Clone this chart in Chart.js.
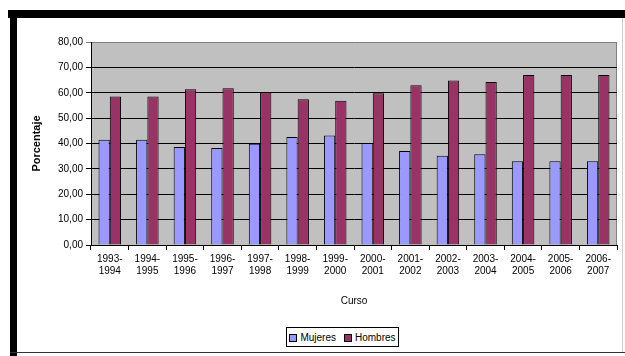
<!DOCTYPE html>
<html>
<head>
<meta charset="utf-8">
<script src="https://cdn.jsdelivr.net/npm/chart.js@4"></script>
<style>
  body { margin: 0; background: #fff; }
  #wrap { position: relative; width: 625px; height: 356px; overflow: hidden; font-family: "Liberation Sans", Arial, sans-serif; }
  #chart { position: absolute; left: 0; top: 0; }
  .band { position: absolute; background: #000; }
  #legend { position: absolute; left: 286px; top: 327px; width: 111px; height: 18px; border: 1px solid #000; background: #fff;
            display: flex; align-items: center; justify-content: center; gap: 8px; font-size: 10px; color: #000; }
  #legend span.sw { display: inline-block; width: 6px; height: 6px; border: 1px solid #000; margin-right: 3px; vertical-align: middle; }
</style>
</head>
<body>
<div id="wrap">
  <canvas id="chart" width="625" height="356"></canvas>
  <div class="band" style="left:8px; top:10px; width:617px; height:8px;"></div>
  <div class="band" style="left:10px; top:10px; width:7px; height:346px;"></div>
  <div class="band" style="left:10px; top:352px; width:615px; height:1px; background:#333;"></div>
  <div class="band" style="left:622px; top:18px; width:1px; height:334px; background:#ccc;"></div>
  <div id="legend"></div>
</div>
<script>
const categories = [
  ["1993-", "1994"], ["1994-", "1995"], ["1995-", "1996"], ["1996-", "1997"],
  ["1997-", "1998"], ["1998-", "1999"], ["1999-", "2000"], ["2000-", "2001"],
  ["2001-", "2002"], ["2002-", "2003"], ["2003-", "2004"], ["2004-", "2005"],
  ["2005-", "2006"], ["2006-", "2007"]
];
const mujeres = [41.5, 41.5, 38.6, 38.2, 39.9, 42.6, 43.2, 40.2, 37.0, 35.2, 35.8, 33.0, 33.0, 33.0];
const hombres = [58.5, 58.5, 61.4, 61.8, 60.1, 57.4, 56.8, 59.8, 63.0, 64.8, 64.2, 67.0, 67.0, 67.0];
const seriesNames = ["Mujeres", "Hombres"];
const seriesColors = ["#9999FF", "#993366"];

/* plot area background + right border */
const plotBg = {
  id: "plotBg",
  beforeDraw(chart) {
    const { ctx, chartArea: a } = chart;
    ctx.save();
    ctx.fillStyle = "#C0C0C0";
    ctx.fillRect(a.left, a.top, a.right - a.left, a.bottom - a.top);
    ctx.strokeStyle = "#808080";
    ctx.lineWidth = 1;
    ctx.beginPath();
    ctx.moveTo(a.right - 0.5, a.top);
    ctx.lineTo(a.right - 0.5, a.bottom);
    ctx.stroke();
    ctx.restore();
  }
};

const chart = new Chart(document.getElementById("chart"), {
  type: "bar",
  data: {
    labels: categories,
    datasets: [
      {
        label: seriesNames[0],
        data: mujeres,
        backgroundColor: seriesColors[0],
        borderColor: "#000",
        borderWidth: 1,
        categoryPercentage: 0.6,
        barPercentage: 1
      },
      {
        label: seriesNames[1],
        data: hombres,
        backgroundColor: seriesColors[1],
        borderColor: "#000",
        borderWidth: 1,
        categoryPercentage: 0.6,
        barPercentage: 1
      }
    ]
  },
  options: {
    responsive: false,
    animation: false,
    layout: { padding: { left: 17, right: 8, top: 42, bottom: 45 } },
    plugins: {
      legend: { display: false },
      tooltip: { enabled: false }
    },
    scales: {
      x: {
        grid: { offset: true, drawOnChartArea: false, color: "#000", tickLength: 5 },
        border: { color: "#000" },
        ticks: {
          color: "#000",
          maxRotation: 0,
          autoSkip: false,
          padding: 3,
          font: { family: "Liberation Sans", size: 10 }
        },
        title: {
          display: true,
          text: "Curso",
          color: "#000",
          font: { family: "Liberation Sans", size: 10 }
        },
        afterFit: s => { s.height = 66; }
      },
      y: {
        min: 0,
        max: 80,
        grid: {
          color: c => (c.tick && c.tick.value === 80 ? "#808080" : "#000"),
          tickLength: 5
        },
        border: { color: "#000" },
        ticks: {
          stepSize: 10,
          color: "#000",
          padding: 3,
          font: { family: "Liberation Sans", size: 10 },
          callback: v => v.toFixed(2).replace(".", ",")
        },
        title: {
          display: true,
          text: "Porcentaje",
          color: "#000",
          padding: { top: 13, bottom: 0 },
          font: { family: "Liberation Sans", size: 11, weight: "bold" }
        },
        afterFit: s => { s.width = 74; }
      }
    }
  },
  plugins: [plotBg]
});

/* legend with a frame, as in the original */
const legend = document.getElementById("legend");
chart.data.datasets.forEach(ds => {
  const item = document.createElement("div");
  item.innerHTML = '<span class="sw" style="background:' + ds.backgroundColor + '"></span>' + ds.label;
  legend.appendChild(item);
});
</script>
</body>
</html>
